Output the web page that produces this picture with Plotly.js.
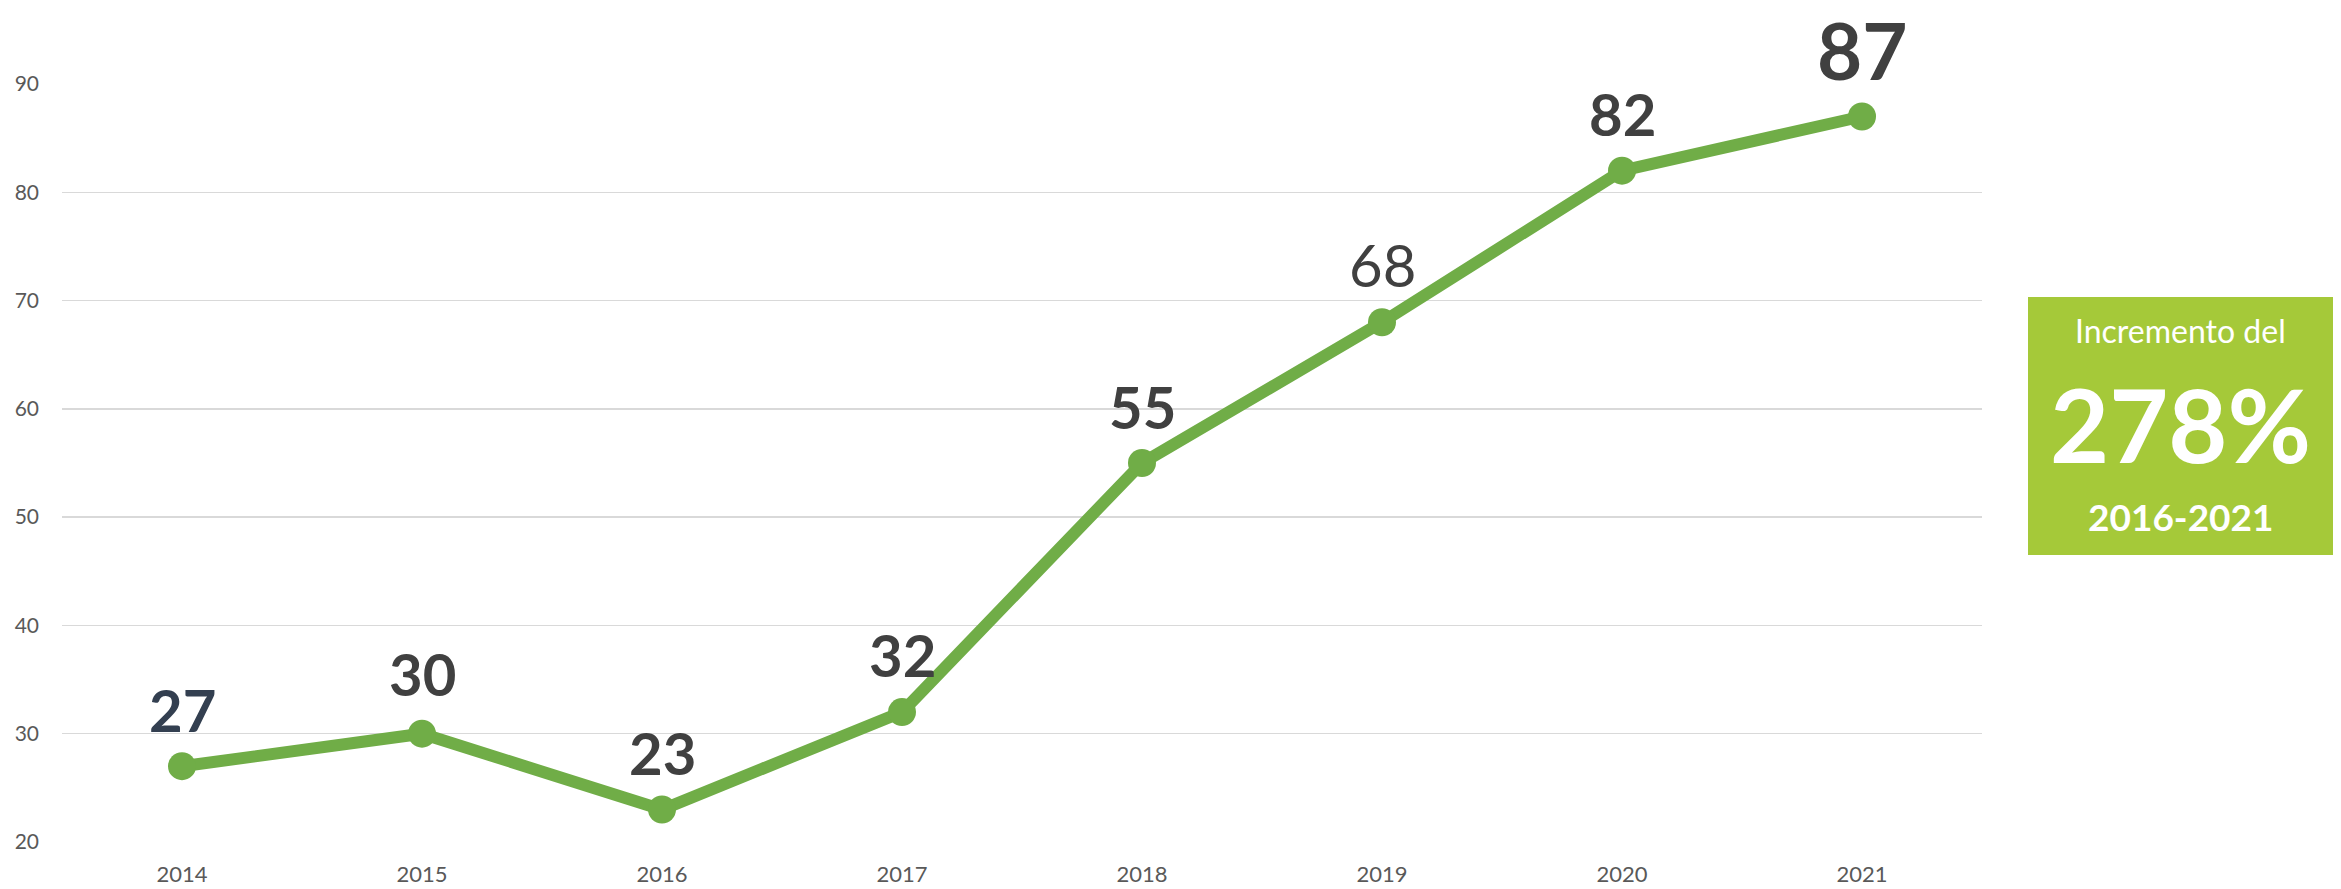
<!DOCTYPE html>
<html>
<head>
<meta charset="utf-8">
<script src="https://cdn.plot.ly/plotly-3.0.1.min.js"></script>
<style>
  html, body { margin: 0; padding: 0; background: #ffffff; }
  #chart { width: 2341px; height: 889px; }
</style>
</head>
<body>
<div id="chart"></div>
<script>
// ---- data ----
const years = ['2014', '2015', '2016', '2017', '2018', '2019', '2020', '2021'];
const values = [27, 30, 23, 32, 55, 68, 82, 87];
const yTicks = [20, 30, 40, 50, 60, 70, 80, 90];
const boxTitle = 'Incremento del';
const boxValue = '278%';
const boxPeriod = '2016-2021';

// ---- styles (per-label) ----
const labelStyle = [
  {size: 58, color: '#333F50', weight: 700, shift: 57},
  {size: 58, color: '#404040', weight: 700, shift: 60},
  {size: 58, color: '#404040', weight: 700, shift: 57},
  {size: 58, color: '#404040', weight: 700, shift: 58},
  {size: 58, color: '#404040', weight: 700, shift: 57},
  {size: 58, color: '#404040', weight: 400, shift: 58},
  {size: 58, color: '#404040', weight: 700, shift: 57},
  {size: 78, color: '#404040', weight: 700, shift: 66}
];

const FONT = 'Lato, "Open Sans", sans-serif';
const W = 2341, H = 889;
const M = {l: 62, r: 359, t: 84, b: 47};
const PW = W - M.l - M.r, PH = H - M.t - M.b;
const px2x = p => (p - M.l) / PW;
const py2y = p => (H - M.b - p) / PH;

const annotations = years.map((yr, i) => ({
  x: i, y: values[i], xref: 'x', yref: 'y',
  text: String(values[i]), showarrow: false, borderpad: 0,
  xanchor: 'center', yanchor: 'middle', yshift: labelStyle[i].shift,
  font: {family: FONT, size: labelStyle[i].size, color: labelStyle[i].color, weight: labelStyle[i].weight}
}));

// Green callout box
const boxX0 = px2x(2028), boxX1 = px2x(2333), boxY0 = py2y(555), boxY1 = py2y(297);
const boxCx = (boxX0 + boxX1) / 2;
annotations.push(
  {xref: 'paper', yref: 'paper', x: boxCx, y: py2y(330), text: boxTitle, showarrow: false,
   xanchor: 'center', yanchor: 'middle', font: {family: FONT, size: 32, color: '#ffffff'}},
  {xref: 'paper', yref: 'paper', x: boxCx, y: py2y(423), text: boxValue, showarrow: false,
   xanchor: 'center', yanchor: 'middle', font: {family: FONT, size: 102, color: '#ffffff', weight: 700}},
  {xref: 'paper', yref: 'paper', x: boxCx, y: py2y(516), text: boxPeriod, showarrow: false,
   xanchor: 'center', yanchor: 'middle', font: {family: FONT, size: 37, color: '#ffffff', weight: 700}}
);

const trace = {
  x: years, y: values, type: 'scatter', mode: 'lines+markers',
  line: {color: '#70AD47', width: 12},
  marker: {color: '#70AD47', size: 28},
  hoverinfo: 'skip', cliponaxis: false
};

const layout = {
  width: W, height: H,
  margin: {l: M.l, r: M.r, t: M.t, b: M.b, pad: 0},
  paper_bgcolor: '#ffffff', plot_bgcolor: 'rgba(0,0,0,0)',
  showlegend: false,
  xaxis: {
    type: 'category', range: [-0.5, 7.5], showgrid: false, zeroline: false,
    showline: false, ticks: '', ticklabelstandoff: 17,
    tickfont: {family: FONT, size: 22, color: '#595959'}, fixedrange: true
  },
  yaxis: {
    range: [20, 90], tickvals: yTicks, ticktext: yTicks.map(String),
    showgrid: true, gridcolor: '#d9d9d9', gridwidth: 1.5, zeroline: false,
    showline: false, ticks: '', ticklabelstandoff: 22,
    tickfont: {family: FONT, size: 21, color: '#595959'}, fixedrange: true
  },
  shapes: [{
    type: 'rect', xref: 'paper', yref: 'paper',
    x0: boxX0, x1: boxX1, y0: boxY0, y1: boxY1,
    fillcolor: '#A5C939', line: {width: 0}, layer: 'below'
  }],
  annotations: annotations
};

Plotly.newPlot('chart', [trace], layout, {staticPlot: true, displayModeBar: false});
</script>
</body>
</html>
